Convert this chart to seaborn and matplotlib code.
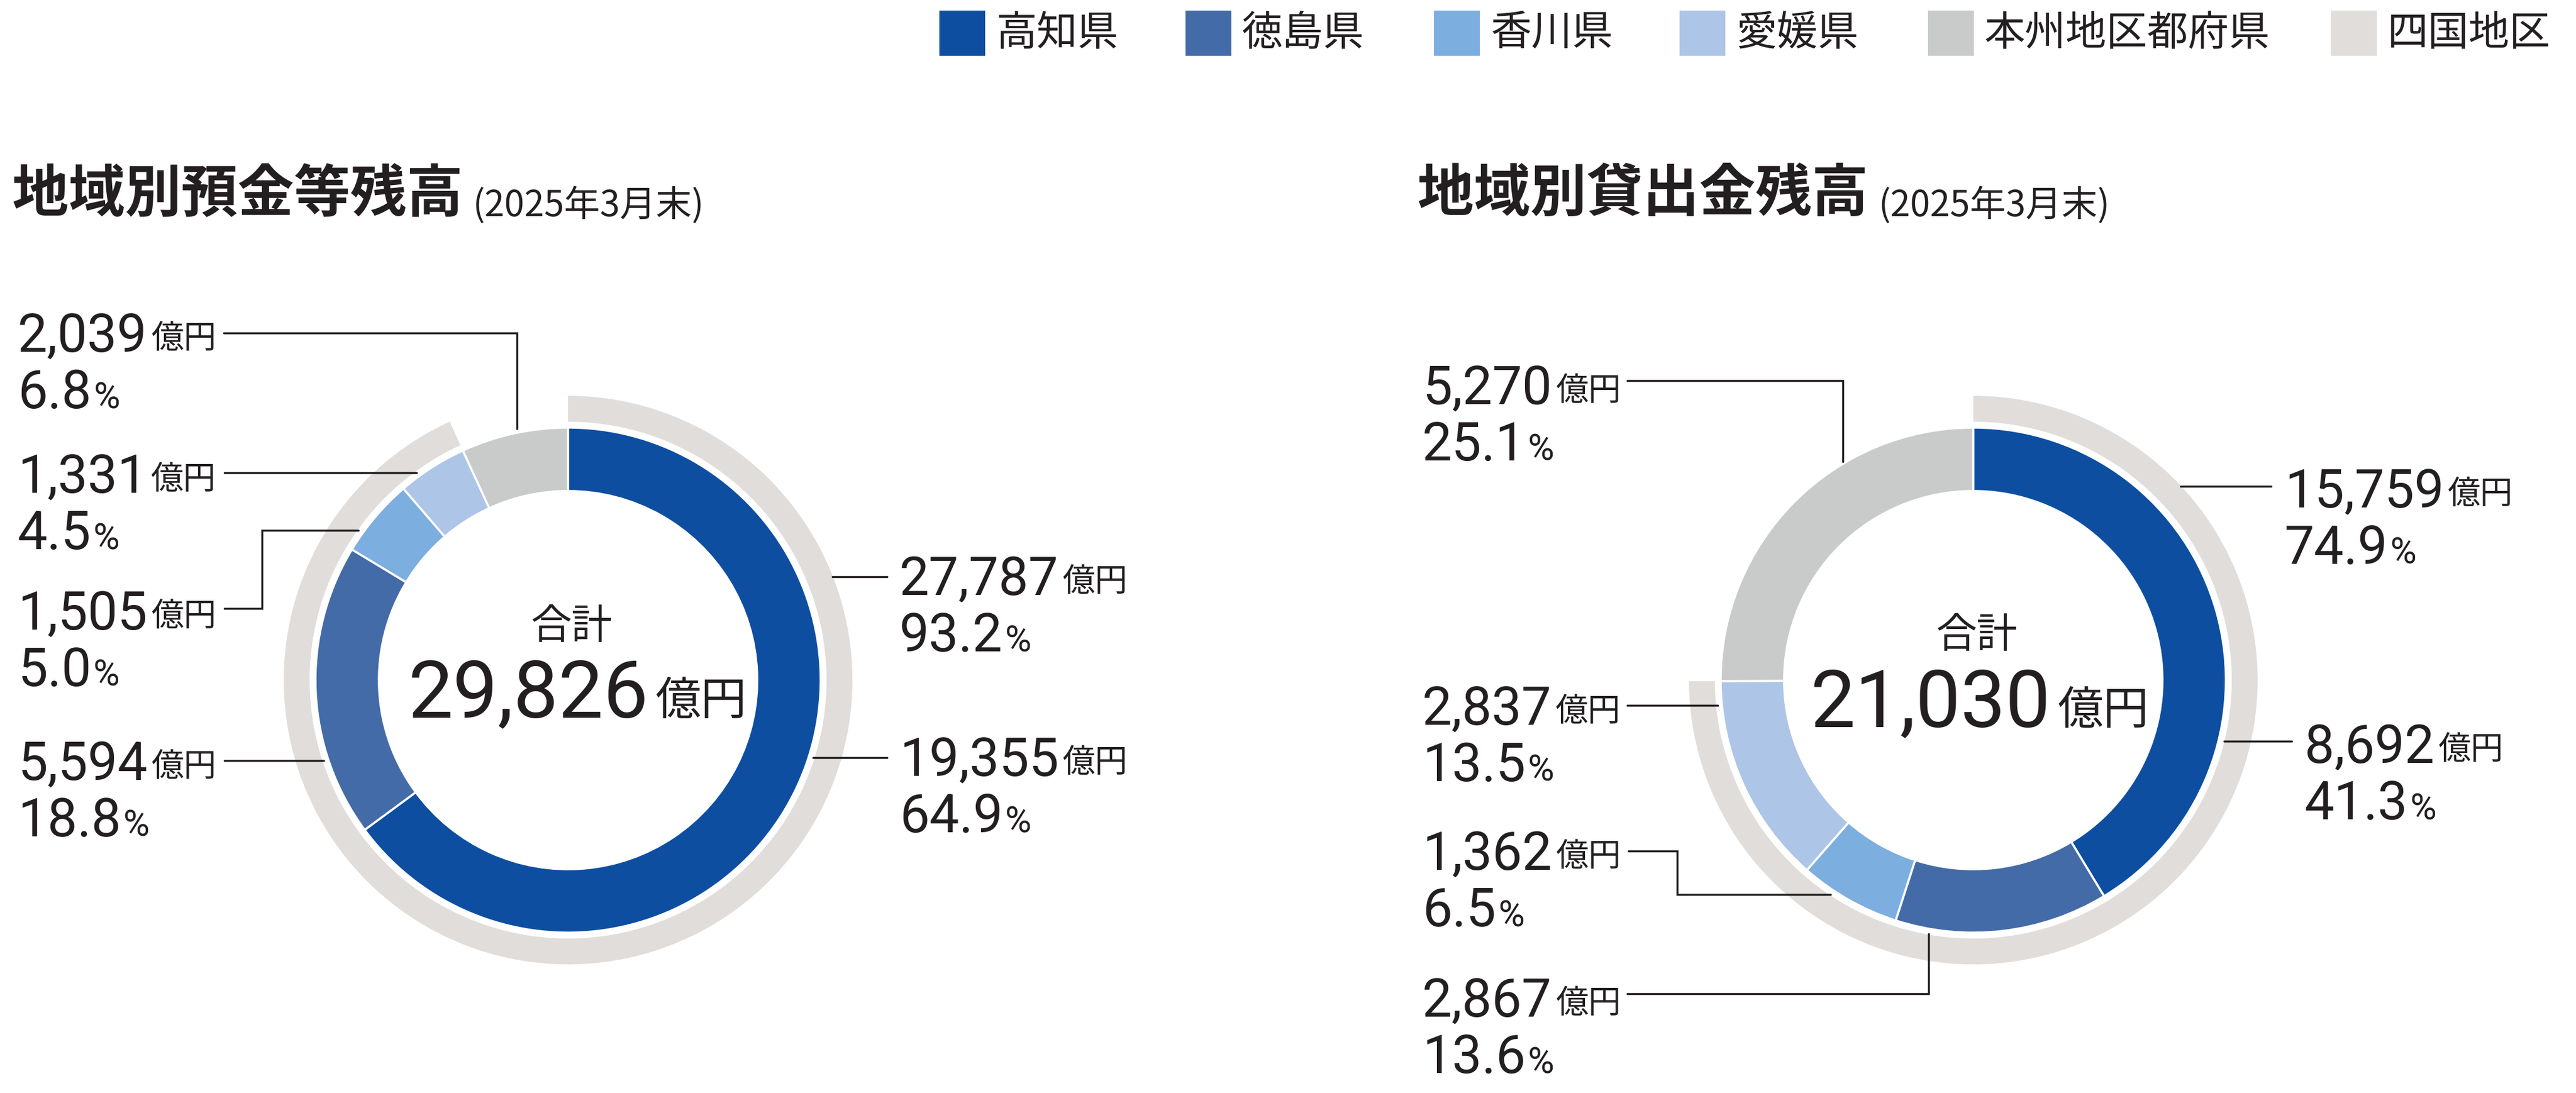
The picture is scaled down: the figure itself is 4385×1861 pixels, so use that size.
import matplotlib
matplotlib.use("Agg")
import matplotlib.pyplot as plt
from matplotlib.patches import Rectangle
import seaborn as sns

# data
regions = ["高知県", "徳島県", "香川県", "愛媛県", "本州地区都府県"]
shikoku_name = "四国地区"
deposit_values = [19355, 5594, 1505, 1331, 2039]
deposit_pct = [64.9, 18.8, 5.0, 4.5, 6.8]
deposit_shikoku = 27787
deposit_shikoku_pct = 93.2
deposit_total = 29826
loan_values = [8692, 2867, 1362, 2837, 5270]
loan_pct = [41.3, 13.6, 6.5, 13.5, 25.1]
loan_shikoku = 15759
loan_shikoku_pct = 74.9
loan_total = 21030
titles = ["地域別預金等残高", "地域別貸出金残高"]
subtitle = "(2025年3月末)"

W, H = 4385, 1861
sns.set_theme(style="white")
JP = ["Noto Sans CJK JP", "DejaVu Sans"]
NUM = ["Roboto", "Noto Sans CJK JP", "DejaVu Sans"]
plt.rcParams["font.family"] = JP
palette = sns.color_palette(["#0d4ea1", "#436ba7", "#7caedf", "#adc5e7",
                             "#c9cbca", "#e0dddb"])
INK = "#231f20"

fig = plt.figure(figsize=(W / 100, H / 100), dpi=100)
ax = fig.add_axes([0, 0, 1, 1])

# layout: label index -> (x, baseline, leader path); index 5 = 四国地区
deposit_layout = {
    4: (30, 599, [(381, 567), (880, 567), (880, 730)]),
    3: (30, 839, [(382, 805), (709, 805)]),
    2: (30, 1072, [(382, 1036), (446, 1036), (446, 903), (610, 903)]),
    1: (30, 1328, [(382, 1295), (551, 1295)]),
    5: (1531, 1013, [(1417, 982), (1510, 982)]),
    0: (1531, 1321, [(1384, 1290), (1510, 1290)]),
}
loan_layout = {
    4: (2421, 688, [(2770, 648), (3137, 648), (3137, 786)]),
    5: (3889, 864, [(3712, 828), (3866, 828)]),
    0: (3923, 1299, [(3786, 1262), (3901, 1262)]),
    3: (2421, 1234, [(2770, 1201), (2924, 1201)]),
    2: (2421, 1481, [(2772, 1449), (2855, 1449), (2855, 1523), (3116, 1523)]),
    1: (2421, 1731, [(2770, 1692), (3283, 1692), (3283, 1590)]),
}

charts = [
    dict(cx=967, cy=1158, values=deposit_values, pct=deposit_pct,
         shikoku=deposit_shikoku, shikoku_pct=deposit_shikoku_pct,
         total=deposit_total, layout=deposit_layout, title=titles[0],
         tx=21, sx=804, total_base=1221, total_split=1104, sum_y=1067),
    dict(cx=3359, cy=1158, values=loan_values, pct=loan_pct,
         shikoku=loan_shikoku, shikoku_pct=loan_shikoku_pct,
         total=loan_total, layout=loan_layout, title=titles[1],
         tx=2413, sx=3197, total_base=1237, total_split=3491, sum_y=1082),
]

for c in charts:
    # inner ring: prefectures (y axis is inverted, so counterclock=True runs clockwise on screen)
    ax.pie(c["values"], colors=palette[:5], radius=430, center=(c["cx"], c["cy"]),
           startangle=-90, counterclock=True,
           wedgeprops=dict(width=108, edgecolor="white", linewidth=2.6))
    # outer ring: 四国地区 share
    ax.pie([c["shikoku"], c["total"] - c["shikoku"]], colors=[palette[5], "none"],
           radius=484, center=(c["cx"], c["cy"]), startangle=-90, counterclock=True,
           wedgeprops=dict(width=44, edgecolor="none"))

ax.set_xlim(0, W)
ax.set_ylim(H, 0)
ax.set_aspect("auto")
ax.set_axis_off()

renderer = fig.canvas.get_renderer()


def right_edge(t):
    return t.get_window_extent(renderer=renderer).x1


def value_label(x, base, number, unit, num_size, unit_size, unit_lift, gap):
    t = ax.text(x, base, number, fontsize=num_size, family=NUM, color=INK,
                ha="left", va="baseline")
    ax.text(right_edge(t) + gap, base - unit_lift, unit, fontsize=unit_size,
            family=JP if unit != "%" else NUM, color=INK, ha="left", va="baseline")


for c in charts:
    vals = c["values"] + [c["shikoku"]]
    pcts = c["pct"] + [c["shikoku_pct"]]
    for i, (x, base, path) in c["layout"].items():
        value_label(x, base, f"{vals[i]:,}", "億円", 65, 40, 6, 6)
        value_label(x, base + 96, f"{pcts[i]:.1f}", "%", 65, 44, 0, 4)
        xs, ys = zip(*path)
        ax.plot(xs, ys, color=INK, lw=2.5, solid_joinstyle="miter")

    # centre total
    ax.text(c["cx"] + 6, c["sum_y"], "合計", fontsize=50, color=INK,
            ha="center", va="center")
    ax.text(c["total_split"], c["total_base"], f"{c['total']:,}", fontsize=98,
            family=NUM, color=INK, ha="right", va="baseline")
    ax.text(c["total_split"] + 12, c["total_base"] - 4, "億円", fontsize=56,
            color=INK, ha="left", va="baseline")

    # titles
    ax.text(c["tx"], 331, c["title"], fontsize=69, fontweight="bold", color=INK,
            ha="left", va="center")
    ax.text(c["sx"], 350, subtitle, fontsize=44, color=INK, ha="left", va="center")

# legend
legend_x = [1599, 2018, 2441, 2859, 3282, 3968]
for lx, name, col in zip(legend_x, regions + [shikoku_name], palette):
    ax.add_patch(Rectangle((lx, 18), 78, 77, facecolor=col, edgecolor="none"))
    ax.text(lx + 96, 57, name, fontsize=50, color=INK, ha="left", va="center")

fig.savefig("out.png", dpi=100, facecolor="white")
